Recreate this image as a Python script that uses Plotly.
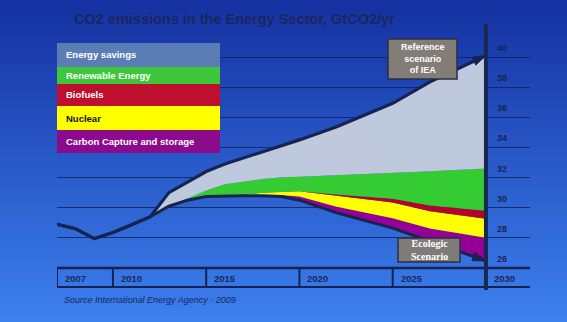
import numpy as np
import plotly.graph_objects as go

# ---------------- data ----------------
years = [2007, 2008, 2009, 2010, 2011, 2012, 2013, 2014, 2015, 2016, 2017, 2018, 2019, 2020, 2022, 2025, 2027, 2030]
ecologic = [28.9, 28.6, 27.95, 28.35, 28.87, 29.4, 30.1, 30.5, 30.75, 30.8, 30.8, 30.8, 30.75, 30.5, 29.67, 28.65, 27.77, 26.47]
ccs = [0, 0, 0, 0, 0, 0, 0, 0, 0, 0, 0, 0.05, 0.1, 0.25, 0.4, 0.65, 0.85, 1.53]
nuclear = [0, 0, 0, 0, 0, 0, 0, 0, 0, 0, 0.05, 0.15, 0.2, 0.35, 0.72, 1.05, 1.15, 1.27]
biofuels = [0, 0, 0, 0, 0, 0, 0, 0, 0, 0, 0, 0, 0, 0, 0.08, 0.25, 0.38, 0.53]
renewables = [0, 0, 0, 0, 0, 0, 0, 0.1, 0.4, 0.75, 0.9, 0.9, 0.95, 0.95, 1.28, 1.7, 2.27, 2.8]
savings = [0, 0, 0, 0, 0, 0, 0.9, 1.1, 1.25, 1.35, 1.55, 1.8, 2.1, 2.45, 3.22, 4.63, 5.93, 7.5]

legend_names = ["Energy savings", "Renewable Energy", "Biofuels", "Nuclear", "Carbon Capture and storage"]
legend_colors = ["#5b7db5", "#3cc83a", "#bf0f2e", "#ffff00", "#8c0a8c"]
legend_text_colors = ["white", "white", "white", "#111111", "white"]

x_tick_years = [2007, 2010, 2015, 2020, 2025, 2030]
y_ticks = [26, 28, 30, 32, 34, 36, 38, 40]

title_text = "CO2 emissions in the Energy Sector, GtCO2/yr"
source_text = "Source International Energy Agency - 2009"

# wedge fill colours (chart)
fill_savings = "#bfc9de"
fill_renew = "#35cc33"
fill_bio = "#b3042b"
fill_nuc = "#ffff00"
fill_ccs = "#970097"
line_dark = "#16244f"

W, H = 567, 322
def px(x):
    return x / W
def py(y):
    return 1 - y / H

# x scale: 2007 at px 57, 2030 at px 486
x0_px, x1_px = 57.0, 530.0
ppy = (486 - 113) / 20.0
x_range = [2007, 2007 + (x1_px - x0_px) / ppy]
# y scale: 26 at px 268, 40 at px 57
top_px, bot_px = 25.0, 268.0
ppv = (268 - 57) / 14.0
y_range = [26, 40 + (57 - top_px) / ppv]

fig = go.Figure()

# stacked wedges
fig.add_trace(go.Scatter(x=years, y=ecologic, stackgroup="s", mode="lines",
                         line=dict(width=0), fillcolor="rgba(0,0,0,0)", hoverinfo="skip", showlegend=False))
for vals, col in [(ccs, fill_ccs), (nuclear, fill_nuc), (biofuels, fill_bio),
                  (renewables, fill_renew), (savings, fill_savings)]:
    fig.add_trace(go.Scatter(x=years, y=vals, stackgroup="s", mode="lines",
                             line=dict(width=0, color=col), fillcolor=col,
                             hoverinfo="skip", showlegend=False))

reference = (np.array(ecologic) + np.array(ccs) + np.array(nuclear) + np.array(biofuels)
             + np.array(renewables) + np.array(savings))

for yvals, lw in [(ecologic, 3), (reference, 3.2)]:
    fig.add_trace(go.Scatter(x=years, y=yvals, mode="lines",
                             line=dict(color=line_dark, width=lw),
                             hoverinfo="skip", showlegend=False))
    fig.add_trace(go.Scatter(x=years[-2:], y=list(yvals[-2:]), mode="markers",
                             marker=dict(symbol="arrow", angleref="previous", size=[0, 14],
                                         color=line_dark, opacity=1,
                                         line=dict(color=line_dark, width=1)),
                             hoverinfo="skip", showlegend=False))

shapes = []
# background gradient
nb = 46
c_top = np.array([22, 50, 162])
c_bot = np.array([60, 128, 238])
for i in range(nb):
    t = i / (nb - 1)
    c = (c_top * (1 - t) + c_bot * t).astype(int)
    shapes.append(dict(type="rect", xref="paper", yref="paper",
                       x0=0, x1=1, y0=1 - (i + 1) / nb - 0.002, y1=1 - i / nb,
                       fillcolor=f"rgb({c[0]},{c[1]},{c[2]})", line=dict(width=0), layer="below"))

# x-axis box lines
axis_col = "#152252"
shapes.append(dict(type="line", xref="paper", yref="paper", x0=px(57), x1=px(530), y0=py(268), y1=py(268),
                   line=dict(color=axis_col, width=2.5)))
shapes.append(dict(type="line", xref="paper", yref="paper", x0=px(57), x1=px(530), y0=py(287), y1=py(287),
                   line=dict(color=axis_col, width=2)))
for yr in x_tick_years[:-1]:
    shapes.append(dict(type="line", xref="x", yref="paper", x0=yr, x1=yr, y0=py(287), y1=py(268),
                       line=dict(color=axis_col, width=2)))
# 2030 vertical axis line
shapes.append(dict(type="line", xref="x", yref="paper", x0=2030, x1=2030, y0=py(290), y1=py(24),
                   line=dict(color="#1a2850", width=4)))

# legend boxes
row_edges = [43, 67, 84, 106, 130, 153]
for i, (name, col, tcol) in enumerate(zip(legend_names, legend_colors, legend_text_colors)):
    shapes.append(dict(type="rect", xref="paper", yref="paper", x0=px(57), x1=px(220),
                       y0=py(row_edges[i + 1]), y1=py(row_edges[i]),
                       fillcolor=col, line=dict(width=0)))

# label boxes
shapes.append(dict(type="rect", xref="paper", yref="paper", x0=px(388), x1=px(457), y0=py(79), y1=py(39),
                   fillcolor="#837d78", line=dict(color="#2a2f45", width=1.5)))
shapes.append(dict(type="rect", xref="paper", yref="paper", x0=px(398), x1=px(460), y0=py(262), y1=py(238),
                   fillcolor="#7f7b78", line=dict(color="#2a2f45", width=1.5)))

annotations = []
annotations.append(dict(text="<b>" + title_text + "</b>", xref="paper", yref="paper",
                        x=px(72), y=py(19), xanchor="left", yanchor="middle", showarrow=False,
                        font=dict(family="Liberation Sans, Arial", size=14.5, color="#19275e")))
annotations.append(dict(text="<i>" + source_text + "</i>", xref="paper", yref="paper",
                        x=px(62), y=py(300), xanchor="left", yanchor="middle", showarrow=False,
                        font=dict(family="Liberation Sans, Arial", size=9, color="#19275e")))
for yr in x_tick_years:
    annotations.append(dict(text="<b>%d</b>" % yr, xref="x", yref="paper", x=yr, xshift=6,
                            y=py(278), xanchor="left", yanchor="middle", showarrow=False,
                            font=dict(family="Liberation Sans, Arial", size=9.5, color="#19275e")))
for yv in y_ticks:
    annotations.append(dict(text="<b>%d</b>" % yv, xref="paper", yref="y", x=px(495), y=yv, yshift=9,
                            xanchor="left", yanchor="middle", showarrow=False,
                            font=dict(family="Liberation Sans, Arial", size=9, color="#172455")))
for i, (name, tcol) in enumerate(zip(legend_names, legend_text_colors)):
    annotations.append(dict(text="<b>" + name + "</b>", xref="paper", yref="paper", x=px(64),
                            y=py((row_edges[i] + row_edges[i + 1]) / 2), xanchor="left", yanchor="middle",
                            showarrow=False,
                            font=dict(family="Liberation Sans, Arial", size=9.5, color=tcol)))
annotations.append(dict(text="<b>Reference<br>scenario<br>of IEA</b>", xref="paper", yref="paper",
                        x=px(422.5), y=py(59), xanchor="center", yanchor="middle", showarrow=False,
                        font=dict(family="Liberation Sans, Arial", size=9, color="white")))
annotations.append(dict(text="<b>Ecologic<br>Scenario</b>", xref="paper", yref="paper",
                        x=px(429), y=py(250), xanchor="center", yanchor="middle", showarrow=False,
                        font=dict(family="Liberation Serif, Times New Roman", size=10, color="white")))

fig.update_layout(
    width=W, height=H,
    margin=dict(l=0, r=0, t=0, b=0),
    paper_bgcolor="rgb(40,90,200)",
    plot_bgcolor="rgba(0,0,0,0)",
    showlegend=False,
    xaxis=dict(domain=[px(x0_px), px(x1_px)], range=x_range, showgrid=False, zeroline=False,
               showticklabels=False, ticks="", showline=False, fixedrange=True),
    yaxis=dict(domain=[py(bot_px), py(top_px)], range=y_range, tickvals=y_ticks,
               showgrid=True, gridcolor="rgba(20,35,95,0.85)", gridwidth=1.2,
               zeroline=False, showticklabels=False, ticks="", showline=False, fixedrange=True),
    shapes=shapes,
    annotations=annotations,
)

fig.write_html("out.html")
